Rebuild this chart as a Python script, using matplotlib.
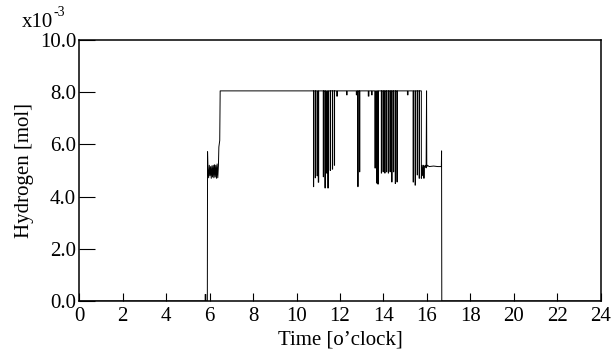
import matplotlib
matplotlib.use('Agg')
import matplotlib.pyplot as plt
import numpy as np

plt.rcParams['font.family'] = ['Liberation Serif', 'DejaVu Serif']

# morning start-up part (hour, hydrogen x1e-3 mol)
morning_t = [0.0, 5.80, 5.80, 5.83, 5.83, 5.90, 5.91, 5.93, 5.96, 5.99, 6.02, 6.05,
             6.08, 6.11, 6.14, 6.17, 6.20, 6.23, 6.26, 6.29, 6.32, 6.35, 6.38,
             6.41, 6.43, 6.47, 6.49]
morning_v = [0.0, 0.0, 0.25, 0.25, 0.0, 0.0, 5.72, 5.05, 4.72, 5.20, 4.80, 5.15,
             4.70, 5.18, 4.75, 5.20, 4.72, 5.22, 4.75, 5.20, 4.70, 5.25, 4.72,
             5.20, 5.90, 6.15, 8.05]

top_level = 8.05

# dips from the full level during the day: start, end, lowest value
dip_t0 = [10.78, 10.86, 10.94, 11.00, 11.23, 11.31, 11.38, 11.44, 11.55, 11.65,
          11.74, 11.85, 12.30, 12.75, 12.82, 12.90, 13.30, 13.45, 13.60, 13.68,
          13.74, 13.90, 13.98, 14.06, 14.14, 14.22, 14.30, 14.38, 14.46, 14.54,
          14.62, 15.10, 15.36, 15.45, 15.55, 15.64]
dip_t1 = [10.79, 10.87, 10.97, 11.02, 11.24, 11.32, 11.42, 11.46, 11.56, 11.66,
          11.75, 11.88, 12.33, 12.78, 12.83, 12.91, 13.33, 13.48, 13.64, 13.72,
          13.76, 13.91, 13.99, 14.07, 14.15, 14.23, 14.31, 14.39, 14.47, 14.55,
          14.63, 15.13, 15.38, 15.47, 15.56, 15.65]
dip_v = [4.38, 4.72, 4.80, 4.55, 4.76, 4.33, 4.90, 4.33, 5.00, 5.05,
         5.20, 7.85, 7.90, 7.90, 4.38, 4.95, 7.85, 7.90, 5.10, 4.52,
         4.48, 4.90, 4.95, 4.90, 4.95, 4.90, 4.95, 4.56, 4.95, 4.50,
         4.56, 7.90, 4.56, 4.44, 4.83, 4.70]

# afternoon part down to shutdown
evening_t = [15.74, 15.74, 15.78, 15.80, 15.84, 15.86, 15.88,
             15.92, 15.96, 15.98, 15.99, 16.02, 16.10, 16.30, 16.50, 16.66,
             16.67, 16.68, 24.0]
evening_v = [8.05, 4.70, 5.20, 4.80, 5.20, 4.70, 5.15,
             5.20, 5.10, 8.05, 5.15, 5.20, 5.15, 5.17, 5.15, 5.15,
             5.75, 0.0, 0.0]

t = list(morning_t)
v = list(morning_v)
for a, b, dv in zip(dip_t0, dip_t1, dip_v):
    t += [a, a, b, b]
    v += [top_level, dv, dv, top_level]
t += evening_t
v += evening_v

fig = plt.figure(figsize=(6.14, 3.59), dpi=100)
ax = fig.add_axes([0.1287, 0.1616, 0.8501, 0.727])
ax.plot(t, v, color='black', lw=0.7)

ax.set_xlim(0, 24)
ax.set_ylim(0, 10)
ax.set_xticks(np.arange(0, 25, 2))
ax.set_yticks(np.arange(0, 10.1, 2))
ax.set_yticklabels(['%.1f' % y for y in np.arange(0, 10.1, 2)])
ax.tick_params(axis='both', direction='in', labelsize=15, width=0.8, colors='black')
ax.tick_params(axis='y', length=11.5, pad=2)
ax.tick_params(axis='x', length=5.8, pad=4.5)
for s in ax.spines.values():
    s.set_linewidth(1.1)

ax.set_xlabel("Time [o\u2019clock]", fontsize=15, labelpad=3)
ax.set_ylabel('Hydrogen [mol]', fontsize=15, labelpad=4)
fig.text(0.036, 0.925, 'x10', fontsize=15)
fig.text(0.087, 0.955, '-3', fontsize=10)

fig.savefig('out.png', dpi=100)
